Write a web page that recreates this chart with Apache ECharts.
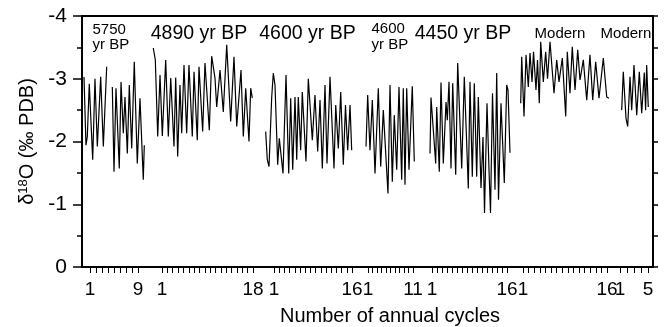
<!DOCTYPE html>
<html><head><meta charset="utf-8">
<script src="https://cdn.jsdelivr.net/npm/echarts@6/dist/echarts.min.js"></script>
<style>html,body{margin:0;padding:0;background:#fff}#c{width:666px;height:327px}</style>
</head><body><div id="c"></div>
<script>
const FONT = '"Liberation Sans", Arial, Helvetica, sans-serif';

// ---- data ----
const segNames = ['5750\nyr BP', '4890 yr BP', '4600 yr BP', '4600\nyr BP', '4450 yr BP', 'Modern', 'Modern'];
const segCycles = [9, 18, 16, 11, 16, 16, 5];
const yTickValues = [0, -1, -2, -3, -4];
const xTitle = 'Number of annual cycles';

const seg1Cycle = [0.0,0.33,0.55,0.88,1.45,1.83,2.22,2.78,3.22,3.78,4.25,4.72,5.0,5.33,5.88,6.17,6.55,6.83,7.22,7.55,7.95,8.38,8.88,9.33,9.88,10.05];
const seg1Val   = [-3.03,-1.94,-2.08,-2.92,-1.71,-3.0,-1.92,-3.03,-1.92,-3.19,null,-2.87,-1.52,-2.85,-1.57,-2.95,-2.13,-2.71,-1.81,-2.9,-1.89,-3.27,-1.65,-2.69,-1.39,-1.94];

const seg2Cycle = [-0.63,-0.25,0.20,0.63,1.06,1.69,2.18,2.63,3.24,3.56,3.93,4.36,4.68,5.11,5.61,6.04,6.66,6.98,7.59,7.91,8.60,9.03,9.84,10.28,10.90,11.22,11.84,12.45,13.09,13.83,14.45,14.96,15.76,16.19,16.64,17.25,17.57,17.87];
const seg2Val   = [-3.49,-3.30,-2.08,-3.06,-2.09,-3.30,-2.08,-3.01,-1.92,-3.02,-1.76,-2.90,-2.13,-3.22,-2.13,-3.22,-2.08,-3.11,-2.02,-3.19,-2.16,-3.25,-2.18,-3.36,-3.01,-2.55,-3.14,-2.47,-3.54,-2.32,-3.35,-2.24,-3.14,-2.08,-2.85,-2.00,-2.85,-2.69];

const seg3Cycle = [-0.60,-0.29,0.04,0.56,0.87,1.19,1.71,2.02,2.73,3.31,3.83,4.21,4.60,5.04,5.37,5.67,6.13,6.44,7.15,7.60,8.37,8.88,9.40,9.85,10.29,10.81,11.19,11.77,12.54,12.87,13.37,13.83,14.33,14.75,15.17,15.62,15.94];
const seg3Val   = [-2.16,-1.71,-1.60,-2.71,-3.09,-2.90,-1.63,-2.05,-1.49,-3.06,-1.49,-2.69,-1.55,-2.71,-1.71,-2.71,-1.86,-2.79,-1.68,-3.0,-2.02,-2.74,-1.84,-2.66,-1.57,-2.90,-1.65,-3.03,-1.57,-2.58,-1.89,-2.79,-1.63,-2.58,-1.86,-2.58,-1.86];

const seg4Cycle = [0.56,0.93,1.44,1.96,2.56,3.29,3.82,4.40,5.44,5.89,6.40,6.84,7.38,7.89,8.49,8.84,9.22,9.60,10.11,10.84,11.29];
const seg4Val   = [-1.92,-2.74,-1.86,-2.66,-1.49,-2.85,-1.60,-2.50,-1.17,-2.90,-1.36,-2.42,-1.55,-2.87,-1.39,-2.85,-1.31,-2.85,-1.55,-2.88,-1.68];

const seg5Cycle = [0.6,0.8,1.74,1.94,2.46,2.8,3.26,3.8,4.06,4.4,4.8,5.14,5.74,6.14,6.94,7.46,8.26,8.6,9.06,9.46,9.94,10.26,10.8,11.2,11.5,12.0,12.4,12.7,13.1,13.6,13.94,14.3,14.8,15.46,15.94,16.2,16.6];
const seg5Val   = [-1.81,-2.70,-1.65,-2.55,-1.52,-2.94,-1.65,-2.63,-2.34,-2.95,-1.57,-2.93,-1.47,-3.25,-1.57,-3.03,-1.25,-2.95,-1.44,-2.93,-1.44,-2.71,-1.26,-2.07,-0.86,-2.61,-1.55,-0.86,-2.77,-1.23,-3.09,-1.07,-2.61,-1.34,-2.90,-2.82,-1.82];

const seg6Cycle = [0.59,0.77,1.18,1.54,1.95,2.25,2.61,2.88,3.32,3.59,3.91,4.16,4.63,5.05,5.38,5.82,6.54,7.02,7.43,8.02,8.63,8.91,9.39,9.80,10.29,10.77,11.18,11.77,12.38,12.96,13.45,13.98,14.57,15.34,15.95,16.36];
const seg6Val   = [-2.61,-3.35,-2.40,-3.38,-2.87,-3.41,-2.95,-3.43,-2.82,-3.3,-2.61,-3.59,-2.95,-3.43,-3.0,-3.59,-2.77,-3.30,-2.95,-3.33,-2.40,-3.43,-2.77,-3.51,-2.82,-3.46,-2.98,-3.30,-2.66,-3.38,-2.66,-3.27,-2.69,-3.33,-2.71,-2.69];

const seg7Cycle = [1.24,1.47,1.86,2.10,2.43,2.67,3.00,3.39,3.76,4.10,4.47,4.66,4.81,5.04];
const seg7Val   = [-2.50,-3.11,-2.37,-2.24,-3.03,-2.50,-3.22,-2.42,-3.11,-2.45,-3.10,-2.50,-3.22,-2.55];

// ---- layout (pixels) ----
const PLOT = {left: 82, right: 653, top: 16, bottom: 267};
const tickPx = [[90,138],[162,253],[274,352],[368,413],[432,507],[523,607],[620,648]];
const titleLayout = [
  {x: 92.5, y: 22.5, align: 'left', vAlign: 'top', size: 15, lh: 15},
  {x: 199, y: 33.5, align: 'center', vAlign: 'middle', size: 19.5},
  {x: 307.5, y: 33.5, align: 'center', vAlign: 'middle', size: 19.5},
  {x: 371.5, y: 20.5, align: 'left', vAlign: 'top', size: 15, lh: 16.5},
  {x: 463, y: 33.5, align: 'center', vAlign: 'middle', size: 19.5},
  {x: 560, y: 33.5, align: 'center', vAlign: 'middle', size: 15},
  {x: 626, y: 33.5, align: 'center', vAlign: 'middle', size: 15}
];

const segX = [seg1Cycle, seg2Cycle, seg3Cycle, seg4Cycle, seg5Cycle, seg6Cycle, seg7Cycle];
const segY = [seg1Val, seg2Val, seg3Val, seg4Val, seg5Val, seg6Val, seg7Val];

const chart = echarts.init(document.getElementById('c'), null, {renderer: 'canvas'});

const grids = [{left: PLOT.left, top: PLOT.top, width: PLOT.right - PLOT.left, height: PLOT.bottom - PLOT.top,
  show: true, borderColor: '#000', borderWidth: 2, backgroundColor: 'transparent', containLabel: false}];
const xAxes = [{gridIndex: 0, type: 'value', min: 0, max: 1,
  axisLine: {show: true, onZero: false, lineStyle: {color: '#000', width: 2}},
  axisTick: {show: false}, axisLabel: {show: false}, splitLine: {show: false}}];
const yAxes = [
  {gridIndex: 0, type: 'value', min: -4, max: 0, interval: 1, inverse: true, position: 'left',
   axisLine: {show: true, onZero: false, lineStyle: {color: '#000', width: 2}},
   axisTick: {show: true, length: 9, lineStyle: {color: '#000', width: 1.5}},
   minorTick: {show: true, splitNumber: 2, length: 5, lineStyle: {color: '#000', width: 1.5}},
   axisLabel: {color: '#000', fontSize: 21, fontFamily: FONT, margin: 15,
     customValues: yTickValues},
   splitLine: {show: false}, minorSplitLine: {show: false},
   name: '{a|δ}{s|18}{a|O (‰ PDB)}', nameLocation: 'middle', nameRotate: 90, nameGap: 40,
   nameTextStyle: {color: '#000', fontFamily: FONT, fontSize: 20,
     rich: {a: {fontSize: 20, fontFamily: FONT, color: '#000'},
            s: {fontSize: 13, fontFamily: FONT, color: '#000', verticalAlign: 'top', padding: [0, 0, 8, 0]}}}},
  {gridIndex: 0, type: 'value', min: -4, max: 0, interval: 0.5, inverse: true, position: 'right',
   axisLine: {show: true, onZero: false, lineStyle: {color: '#000', width: 2}},
   axisTick: {show: true, length: 5, lineStyle: {color: '#000', width: 1.5}},
   axisLabel: {show: false}, splitLine: {show: false}}
];
const series = [];
const graphics = [];

segCycles.forEach((n, i) => {
  const [p1, pN] = tickPx[i];
  const s = (pN - p1) / (n - 1);
  const lo = -1.5, hi = n + 1.5;
  grids.push({left: p1 + (lo - 1) * s, width: (hi - lo) * s, top: PLOT.top, height: PLOT.bottom - PLOT.top, show: false});
  const tv = [];
  for (let k = 1; k <= n; k++) tv.push(k);
  xAxes.push({gridIndex: i + 1, type: 'value', min: lo, max: hi, position: 'bottom',
    axisLine: {show: false, onZero: false},
    axisTick: {show: true, customValues: tv, length: 6, lineStyle: {color: '#000', width: 1}},
    axisLabel: {show: true, customValues: [1, n], color: '#000', fontSize: 19, fontFamily: FONT, margin: 13},
    splitLine: {show: false}});
  yAxes.push({gridIndex: i + 1, type: 'value', min: -4, max: 0, inverse: true, show: false});
  series.push({type: 'line', xAxisIndex: i + 1, yAxisIndex: i + 2,
    data: segX[i].map((c, j) => [c, segY[i][j]]),
    symbol: 'none', connectNulls: false, silent: true,
    lineStyle: {color: '#000', width: 1.2}});
  const t = titleLayout[i];
  graphics.push({type: 'text', x: t.x, y: t.y, silent: true,
    style: {text: segNames[i], fill: '#000', font: t.size + 'px ' + FONT,
      lineHeight: t.lh || t.size, align: t.align, verticalAlign: t.vAlign}});
});

graphics.push({type: 'text', x: 390, y: 316, silent: true,
  style: {text: xTitle, fill: '#000', font: '20px ' + FONT, align: 'center', verticalAlign: 'middle'}});

chart.setOption({
  animation: false,
  backgroundColor: '#fff',
  grid: grids, xAxis: xAxes, yAxis: yAxes, series: series, graphic: graphics
});
</script></body></html>
